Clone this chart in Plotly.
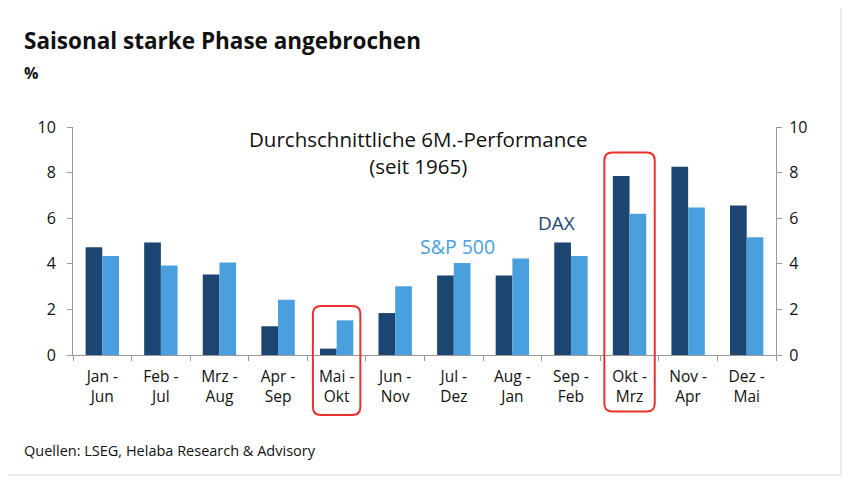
import plotly.graph_objects as go

categories = ["Jan -<br>Jun", "Feb -<br>Jul", "Mrz -<br>Aug", "Apr -<br>Sep", "Mai -<br>Okt", "Jun -<br>Nov",
              "Jul -<br>Dez", "Aug -<br>Jan", "Sep -<br>Feb", "Okt -<br>Mrz", "Nov -<br>Apr", "Dez -<br>Mai"]
dax = [4.73, 4.93, 3.53, 1.26, 0.28, 1.84, 3.49, 3.49, 4.93, 7.85, 8.26, 6.56]
sp500 = [4.34, 3.93, 4.06, 2.42, 1.52, 3.01, 4.04, 4.23, 4.34, 6.19, 6.47, 5.16]
y_ticks = [0, 2, 4, 6, 8, 10]

DAX_C = "#1c4572"
SP_C = "#4a9fde"
FONT = "Open Sans"
W, H = 850, 486
OFF = 8  # page body margin offset
L, R, T, B = 73 - OFF, 850 - (776 - OFF), 127 - OFF, 486 - (355 - OFF)
PW, PH = W - L - R, H - T - B


def px(xr):
    return (xr - OFF - L) / PW


def py(yr):
    return 1 - (yr - OFF - T) / PH


fig = go.Figure()
fig.add_trace(go.Bar(x=categories, y=dax, name="DAX", marker=dict(color=DAX_C, line=dict(width=0))))
fig.add_trace(go.Bar(x=categories, y=sp500, name="S&P 500", marker=dict(color=SP_C, line=dict(width=0))))
fig.add_trace(go.Scatter(x=categories, y=dax, yaxis="y2", mode="lines", opacity=0,
                         hoverinfo="skip", showlegend=False))

axis_common = dict(range=[0, 10], tickvals=y_ticks, showgrid=False, zeroline=False,
                   showline=True, linecolor="#999999", linewidth=1, ticks="outside",
                   ticklen=5, tickcolor="#999999", tickfont=dict(size=16, color="#111111", family=FONT))


def rounded_box(i, v0, v1, hw, r=8):
    # category index i, value range v0..v1 -> paper coordinates
    n = len(categories)
    x0, x1 = (i + 0.5 - hw) / n, (i + 0.5 + hw) / n
    y0, y1 = v0 / 10, v1 / 10
    rx, ry = r / PW, r / PH
    return (f"M {x0+rx},{y1} L {x1-rx},{y1} Q {x1},{y1} {x1},{y1-ry} "
            f"L {x1},{y0+ry} Q {x1},{y0} {x1-rx},{y0} L {x0+rx},{y0} Q {x0},{y0} {x0},{y0+ry} "
            f"L {x0},{y1-ry} Q {x0},{y1} {x0+rx},{y1} Z")


shapes = [
    dict(type="rect", xref="paper", yref="paper",
         x0=px(6), x1=px(841), y0=py(475), y1=py(6),
         line=dict(color="#ececec", width=2), layer="below"),
    dict(type="path", xref="paper", yref="paper", path=rounded_box(4, -2.63, 2.15, 0.405),
         line=dict(color="#e8312f", width=2)),
    dict(type="path", xref="paper", yref="paper", path=rounded_box(9, -2.48, 8.88, 0.43),
         line=dict(color="#e8312f", width=2)),
]

annotations = [
    dict(text="<b>Saisonal starke Phase angebrochen</b>", xref="paper", yref="paper",
         x=px(22), y=py(40), xanchor="left", yanchor="middle",
         showarrow=False, font=dict(size=22.5, color="#111111", family=FONT)),
    dict(text="<b>%</b>", xref="paper", yref="paper",
         x=px(22), y=py(73), xanchor="left", yanchor="middle",
         showarrow=False, font=dict(size=16, color="#111111", family=FONT)),
    dict(text="Quellen: LSEG, Helaba Research &amp; Advisory", xref="paper", yref="paper",
         x=px(22), y=py(450), xanchor="left", yanchor="middle",
         showarrow=False, font=dict(size=14.5, color="#111111", family=FONT)),
    dict(text="Durchschnittliche 6M.-Performance<br>(seit 1965)", xref="paper", yref="paper",
         x=px(418), y=py(152), xanchor="center", yanchor="middle",
         showarrow=False, font=dict(size=20.5, color="#111111", family=FONT)),
    dict(text="S&amp;P 500", xref="paper", yref="paper",
         x=px(457), y=py(246), xanchor="center", yanchor="middle",
         showarrow=False, font=dict(size=19.5, color=SP_C, family=FONT)),
    dict(text="DAX", xref="paper", yref="paper",
         x=px(556), y=py(223), xanchor="center", yanchor="middle",
         showarrow=False, font=dict(size=19, color=DAX_C, family=FONT)),
]

fig.update_layout(
    width=W, height=H,
    margin=dict(l=L, r=R, t=T, b=B),
    paper_bgcolor="white", plot_bgcolor="white",
    barmode="group", bargap=0.43, bargroupgap=0,
    showlegend=False,
    font=dict(family=FONT, color="#111111"),
    xaxis=dict(type="category", tickson="boundaries", ticks="outside", ticklen=5, tickcolor="#999999",
               showline=True, linecolor="#999999", linewidth=1, showgrid=False, ticklabelstandoff=7,
               tickfont=dict(size=15.5, color="#111111", family=FONT)),
    yaxis=dict(side="left", ticklabelstandoff=8, **axis_common),
    yaxis2=dict(side="right", overlaying="y", ticklabelstandoff=4, **axis_common),
    shapes=shapes,
    annotations=annotations,
)

fig.write_html("out.html")
